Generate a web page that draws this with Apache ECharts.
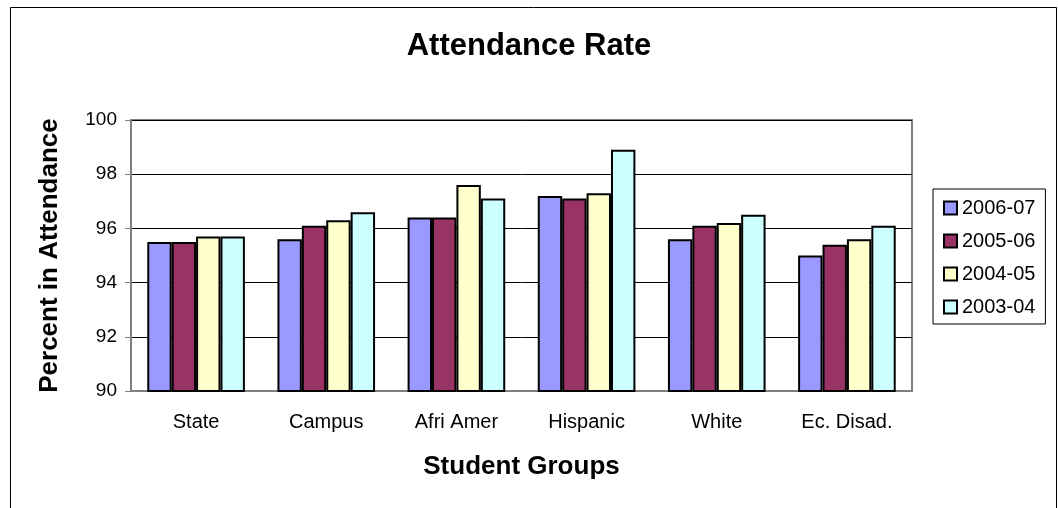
<!DOCTYPE html>
<html>
<head>
<meta charset="utf-8">
<style>
  html, body { margin: 0; padding: 0; background: #fff; }
  #chart { width: 1058px; height: 508px; }
</style>
<script src="https://cdn.jsdelivr.net/npm/echarts@6/dist/echarts.min.js"></script>
</head>
<body>
<div id="chart"></div>
<script>
const groups = ['State', 'Campus', 'Afri Amer', 'Hispanic', 'White', 'Ec. Disad.'];
const years = ['2006-07', '2005-06', '2004-05', '2003-04'];
const rate0607 = [95.5, 95.6, 96.4, 97.2, 95.6, 95.0];
const rate0506 = [95.5, 96.1, 96.4, 97.1, 96.1, 95.4];
const rate0405 = [95.7, 96.3, 97.6, 97.3, 96.2, 95.6];
const rate0304 = [95.7, 96.6, 97.1, 98.9, 96.5, 96.1];
const yTicks = [90, 92, 94, 96, 98, 100];

const colors = ['#9999FF', '#993366', '#FFFFCC', '#CCFFFF'];
const font = '"Liberation Sans", Arial, sans-serif';

document.addEventListener("DOMContentLoaded", () => {
    const chart = echarts.init(document.getElementById('chart'));
    const allRates = [rate0607, rate0506, rate0405, rate0304];

    // one bar series per school year
    const series = years.map((name, i) => ({
        name: name,
        type: 'bar',
        data: allRates[i],
        barGap: '0%',
        barCategoryGap: '25%',
        itemStyle: { color: colors[i], borderColor: '#000', borderWidth: 2 }
    }));

    chart.setOption({
        animation: false,
        backgroundColor: '#fff',
        textStyle: { fontFamily: font, color: '#000' },
        graphic: [{
            type: 'rect',
            left: 8, top: 5,
            shape: { width: 1046, height: 540 },
            style: { fill: 'none', stroke: '#000', lineWidth: 1 },
            silent: true
        }],
        title: {
            text: 'Attendance Rate',
            left: 'center',
            top: 26,
            textStyle: { fontFamily: font, fontSize: 31, fontWeight: 'bold', color: '#000' }
        },
        legend: {
            data: years,
            orient: 'vertical',
            left: 933,
            top: 189,
            icon: 'rect',
            itemWidth: 13,
            itemHeight: 13,
            itemGap: 13,
            padding: [9, 10, 7, 10],
            borderColor: '#000',
            borderWidth: 1,
            textStyle: { fontFamily: font, fontSize: 20, color: '#000', padding: [0, 0, 0, 0] }
        },
        grid: {
            left: 131, right: 146, top: 120, bottom: 117,
            show: true,
            borderColor: '#808080',
            borderWidth: 2,
            backgroundColor: '#fff'
        },
        xAxis: {
            type: 'category',
            data: groups,
            name: 'Student Groups',
            nameLocation: 'middle',
            nameGap: 63,
            nameTextStyle: { fontFamily: font, fontSize: 26, fontWeight: 'bold', color: '#000' },
            axisLine: { lineStyle: { color: '#808080', width: 2 } },
            axisTick: { length: 6, lineStyle: { color: '#808080', width: 1 } },
            axisLabel: { fontFamily: font, fontSize: 20, color: '#000', margin: 21 }
        },
        yAxis: {
            type: 'value',
            min: yTicks[0],
            max: yTicks[yTicks.length - 1],
            interval: 2,
            name: 'Percent in Attendance',
            nameLocation: 'middle',
            nameGap: 68,
            nameTextStyle: { fontFamily: font, fontSize: 26, fontWeight: 'bold', color: '#000' },
            axisLine: { show: true, lineStyle: { color: '#808080', width: 2 } },
            axisTick: { show: true, length: 6, lineStyle: { color: '#808080', width: 1 } },
            axisLabel: { fontFamily: font, fontSize: 19, color: '#000', margin: 14 },
            splitLine: { lineStyle: { color: '#000', width: 1 } }
        },
        series: series
    });

    window.addEventListener("resize", () => chart.resize());
});
</script>
</body>
</html>
